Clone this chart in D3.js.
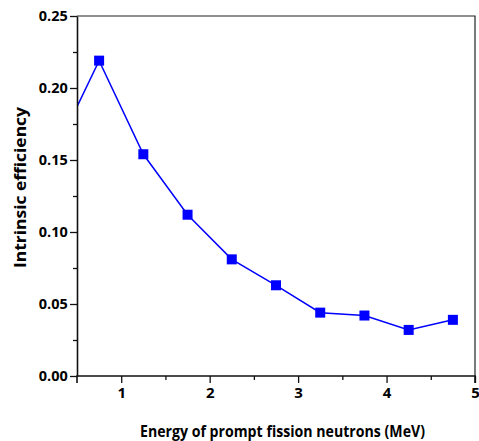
<!DOCTYPE html>
<html>
<head>
<meta charset="utf-8">
<script src="https://cdn.jsdelivr.net/npm/d3@7"></script>
<style>
  body { margin: 0; background: #fff; }
  svg { display: block; }
</style>
</head>
<body>
<svg></svg>
<script>
// energy bins (MeV) and measured intrinsic efficiency
const energy = [0.25, 0.75, 1.25, 1.75, 2.25, 2.75, 3.25, 3.75, 4.25, 4.75];
const efficiency = [0.155, 0.219, 0.154, 0.112, 0.081, 0.063, 0.044, 0.042, 0.032, 0.039];
const xTicks = [1, 2, 3, 4, 5];
const yTicks = [0.00, 0.05, 0.10, 0.15, 0.20, 0.25];

const width = 479;
const height = 441;
const margin = { top: 16, right: 4, bottom: 65, left: 77 };

const svg = d3.select('svg')
    .attr('width', width)
    .attr('height', height);

const x = d3.scaleLinear().domain([0.5, 5]).range([margin.left, width - margin.right]);
const y = d3.scaleLinear().domain([0, 0.25]).range([height - margin.bottom, margin.top]);

const points = energy.map((e, i) => ({ e, v: efficiency[i] }));

svg.append('clipPath').attr('id', 'plot')
    .append('rect')
    .attr('x', x(0.5)).attr('y', y(0.25))
    .attr('width', x(5) - x(0.5)).attr('height', y(0) - y(0.25));

// frame top and right
svg.append('path')
    .attr('fill', 'none')
    .attr('stroke', '#222')
    .attr('stroke-width', 1.2)
    .attr('d', `M${x(0.5)},${y(0.25)}H${x(5)}V${y(0)}`);

const g = svg.append('g').attr('clip-path', 'url(#plot)');

g.append('path')
    .datum(points)
    .attr('fill', 'none')
    .attr('stroke', '#0000ff')
    .attr('stroke-width', 1.5)
    .attr('d', d3.line().x(d => x(d.e)).y(d => y(d.v)));

const s = 10;
g.selectAll('rect.pt')
    .data(points)
    .join('rect')
    .attr('class', 'pt')
    .attr('x', d => x(d.e) - s / 2)
    .attr('y', d => y(d.v) - s / 2)
    .attr('width', s)
    .attr('height', s)
    .attr('fill', '#0000ff');

const font = '"Open Sans", sans-serif';

// minor ticks
svg.append('g')
    .attr('transform', `translate(0,${y(0)})`)
    .call(d3.axisBottom(x).tickValues([1.5, 2.5, 3.5, 4.5]).tickSize(4).tickFormat(''))
    .call(a => a.select('.domain').remove());
svg.append('g')
    .attr('transform', `translate(${x(0.5)},0)`)
    .call(d3.axisLeft(y).tickValues([0.025, 0.075, 0.125, 0.175, 0.225]).tickSize(4).tickFormat(''))
    .call(a => a.select('.domain').remove());

const xAxis = svg.append('g')
    .attr('transform', `translate(0,${y(0)})`)
    .call(d3.axisBottom(x).tickValues(xTicks).tickSize(7).tickSizeOuter(7).tickFormat(d3.format('d')));
xAxis.select('.domain').attr('d', `M${x(0.5)},7V0H${x(5)}V7`);

const yAxis = svg.append('g')
    .attr('transform', `translate(${x(0.5)},0)`)
    .call(d3.axisLeft(y).tickValues(yTicks).tickSize(7).tickSizeOuter(0).tickFormat(d3.format('.2f')));

svg.selectAll('.tick line').attr('stroke', '#111').attr('stroke-width', 1.3);
svg.selectAll('.domain').attr('stroke', '#111').attr('stroke-width', 1.6);
xAxis.selectAll('text').attr('font-family', font).attr('font-weight', 700)
    .attr('font-size', 15).attr('fill', '#000').attr('dy', '0.8em');
yAxis.selectAll('text').attr('font-family', font).attr('font-weight', 700)
    .attr('font-size', 15).attr('fill', '#000').attr('dx', '0.05em')
    .attr('textLength', 29).attr('lengthAdjust', 'spacingAndGlyphs');

svg.append('text')
    .attr('x', 140)
    .attr('y', 437)
    .attr('font-family', font)
    .attr('font-weight', 700)
    .attr('font-size', 15.5)
    .attr('fill', '#000')
    .attr('textLength', 285)
    .attr('lengthAdjust', 'spacingAndGlyphs')
    .text('Energy of prompt fission neutrons (MeV)');

svg.append('text')
    .attr('transform', `translate(26,268) rotate(-90)`)
    .attr('font-family', font)
    .attr('font-weight', 700)
    .attr('font-size', 15.5)
    .attr('fill', '#000')
    .attr('textLength', 161)
    .attr('lengthAdjust', 'spacingAndGlyphs')
    .text('Intrinsic efficiency');
</script>
</body>
</html>
